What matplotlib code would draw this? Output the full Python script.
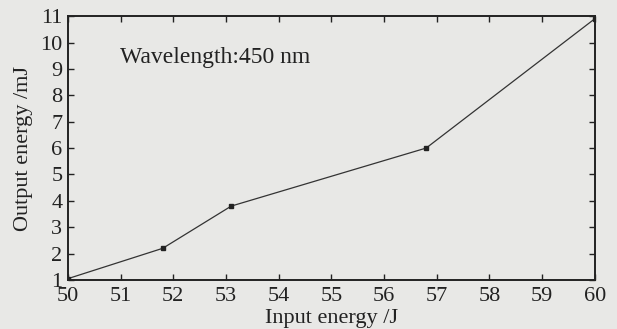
import matplotlib
matplotlib.use("Agg")
import matplotlib.pyplot as plt

# Data
input_energy = [50.0, 51.8, 53.1, 56.8, 60.0]
output_energy = [1.05, 2.2, 3.8, 6.0, 10.9]
x_ticks = list(range(50, 61))
y_ticks = list(range(1, 12))

plt.rcParams['font.family'] = ['Liberation Serif', 'DejaVu Serif']

bg = '#e8e8e6'
fig = plt.figure(figsize=(6.17, 3.29), dpi=100, facecolor=bg)
ax = fig.add_axes([0.110, 0.149, 0.854, 0.802], facecolor=bg)

ax.plot(input_energy, output_energy, color='#333333', linewidth=0.9,
        marker='s', markersize=3, markerfacecolor='#222222', markeredgecolor='#222222')

ax.set_xlim(50, 60)
ax.set_ylim(1, 11)
ax.set_xticks(x_ticks)
ax.set_yticks(y_ticks)
ax.tick_params(direction='in', top=True, right=True, length=4, width=1,
               labelsize=16, colors='#222222')
ax.tick_params(axis='x', pad=5)
ax.tick_params(axis='y', pad=4)
for s in ax.spines.values():
    s.set_linewidth(1.4)
    s.set_color('#222222')

ax.set_xlabel('Input energy /J', fontsize=16, labelpad=2, color='#222222')
ax.set_ylabel('Output energy /mJ', fontsize=16, labelpad=5, color='#222222')
ax.text(0.099, 0.844, 'Wavelength:450 nm', transform=ax.transAxes,
        fontsize=17, color='#222222', va='center')

fig.savefig('out.png', dpi=100, facecolor=bg)
